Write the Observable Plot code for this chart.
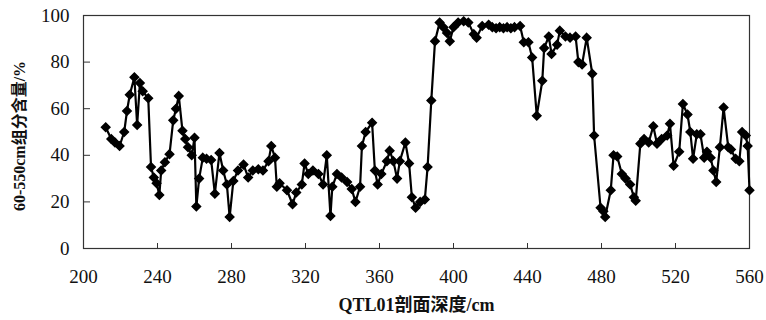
<!DOCTYPE html>
<html>
<head>
<meta charset="utf-8">
<script src="https://cdn.jsdelivr.net/npm/d3@7"></script>
<script src="https://cdn.jsdelivr.net/npm/@observablehq/plot@0.6"></script>
<style>
  html, body { margin: 0; padding: 0; background: #fff; }
  #chart svg { display: block; }
</style>
</head>
<body>
<div id="chart"></div>
<script>
const depths = [212,215,217,219.5,222,223.5,225,227.5,229,230.5,232,235,236.5,238,239.5,241,242,244,246.5,248.5,250,251.5,253.5,255,256.5,258.5,260,261,262.5,264.5,266.5,269,271,273.5,275.5,277.5,279,281,283.5,286.5,289,291.5,294.5,297,300,301.5,303.5,304.5,306,310,313,315,318,319.5,321.5,324,327,329.5,331.5,333.5,334.5,337,339.5,342.5,345,347,349.5,350.5,352.5,356,357.5,359,361,364,365.5,367.5,369.5,371,374,376,377.5,379.5,382,384.5,386,388,390,392.5,394.5,396.5,398,400,402.5,405.5,408,411,412.5,415.5,419,421,423,425,427,429,431,433,436,438,440.5,442.5,445,448,449,451.5,453,456,457.5,460.5,463,466,467.5,469.5,472,475,476,479.5,481,482,485,486.5,488.5,491,493,495.5,497.5,498.5,501,503,505.5,508,510,512.5,515.5,517,519,522,524,526.5,528,529.5,531.5,533.5,535.5,537,539,540.5,542,544,546,548.5,550,552.5,554.5,556,558,559,560];
const values = [52,47,45.5,44,50,59,66,73.5,53,71,67.5,64.5,35,30.5,28,23,33.5,37,40.5,55,60,65.5,50.5,47,43.5,40,47.5,18,30,39,38.5,38,23.5,41,33.5,27.5,13.5,29,33.5,36,30.5,33.5,34,33.5,37.5,44,39,26.5,28,25,19,24,27.5,36.5,32,33.5,32,27.5,40,14,26.5,32,30.5,28.5,25.5,20,26.5,44,50,54,33.5,27.5,32,37.5,42,37.5,30,37.5,45.5,36.5,22,17.5,20,21,35,63.5,89,97,95,92.5,89,95,97,97.5,97,92,90.5,95.5,96,95,94.5,95,94.5,95,94.5,95,95.5,88.5,88.5,82,57,72,86,91,83.5,87.5,93.5,91,90.5,91,80,79,90.5,75,48.5,17.5,16,13.5,25,40,39.5,32,30,27.5,22,20.5,45,47,45.5,52.5,45,47,48.5,53.5,35.5,41.5,62,57.5,50,38.5,49,49,39,41.5,39,33.5,28.5,43.5,60.5,43.5,42.5,38.5,37.5,50,48.5,44,25];
const xTicks = [200,240,280,320,360,400,440,480,520,560];
const yTicks = [0,20,40,60,80,100];
const xTitle = "QTL01剖面深度/cm";
const yTitle = "60-550cm组分含量/%";

const data = depths.map((d, i) => ({depth: d, value: values[i]}));

const W = 766, H = 320;
const mL = 83, mR = 17, mT = 15, mB = 72;
const pw = W - mL - mR, ph = H - mT - mB;
const font = "'Liberation Serif', 'Times New Roman', 'Noto Sans CJK SC', serif";

const chart = Plot.plot({
  width: W, height: H,
  marginLeft: mL, marginRight: mR, marginTop: mT, marginBottom: mB,
  style: {fontFamily: font, fontSize: "19px", color: "#111", background: "#fff"},
  x: {domain: [200, 560], label: null},
  y: {domain: [0, 100], label: null},
  marks: [
    Plot.frame({stroke: "#333", strokeWidth: 1.2}),
    Plot.ruleX(xTicks.slice(1, -1), {x: d => d, stroke: "#333", insetTop: ph - 5}),
    Plot.ruleY(yTicks.slice(1, -1), {y: d => d, stroke: "#333", insetRight: pw - 7}),
    Plot.axisX(xTicks, {tickSize: 0, tickPadding: 21, fontSize: 19, fill: "#111", label: null}),
    Plot.axisY(yTicks, {tickSize: 0, tickPadding: 14, fontSize: 19, fill: "#111", label: null}),
    Plot.line(data, {x: "depth", y: "value", stroke: "#000", strokeWidth: 2.2}),
    Plot.dot(data, {x: "depth", y: "value", symbol: "diamond2", r: 3.8, fill: "#000", stroke: "#000"}),
    Plot.text([xTitle], {frameAnchor: "bottom", dy: 62, fontSize: 18, fontWeight: "bold", fill: "#111"}),
    Plot.text([yTitle], {frameAnchor: "left", dx: -64, dy: 4, rotate: -90, textAnchor: "middle", fontSize: 16, fontWeight: "bold", fill: "#111"})
  ]
});
document.getElementById("chart").appendChild(chart);
</script>
</body>
</html>
